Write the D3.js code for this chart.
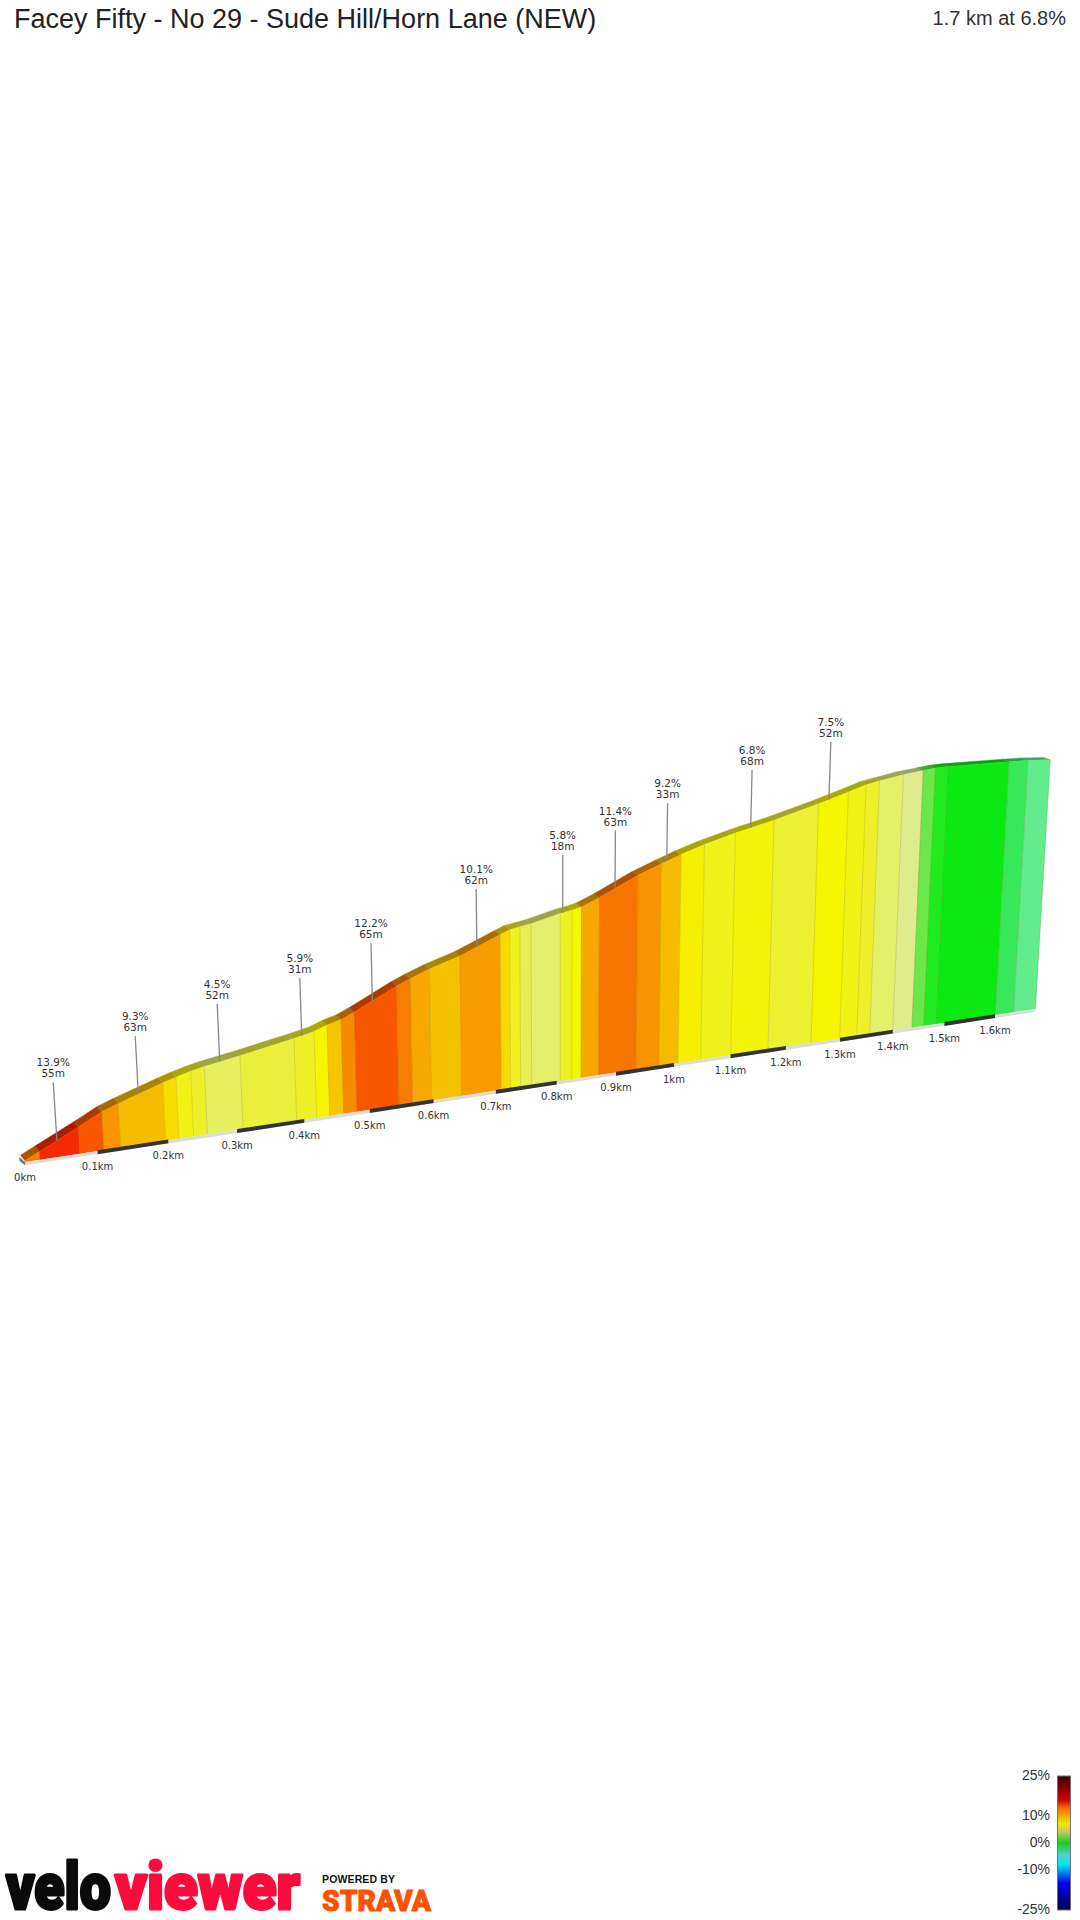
<!DOCTYPE html>
<html><head><meta charset="utf-8">
<script src="https://cdnjs.cloudflare.com/ajax/libs/d3/7.8.5/d3.min.js"></script>
<style>html,body{margin:0;padding:0;background:#fff}svg{display:block}</style>
</head><body><svg id="c" width="1080" height="1920"></svg>
<script>
// ---- data ----
const titleText = "Facey Fifty - No 29 - Sude Hill/Horn Lane (NEW)";
const summaryText = "1.7 km at 6.8%";
// segment boundaries: distance along climb (km), elevation above start (m)
const distances = [0,.0205,.0755,.109,.1324,.1963,.2154,.2366,.2564,.3086,.3886,.4188,.4385,.4599,.4803,.5455,.567,.597,.6449,.7088,.7242,.7405,.7586,.8061,.8251,.8408,.8705,.9343,.9739,1.0071,1.0469,1.1002,1.1675,1.2463,1.2996,1.3316,1.3561,1.4,1.4369,1.4596,1.4842,1.6006,1.6377,1.6816];
const elevations = [.5,3.15,10.2,14.7,16.96,22.5,24,25.5,26.6,28.9,32.8,34.5,36.4,37.9,40.2,48.5,50.9,53.8,57.6,64.4,66,66.7,67.4,70.3,71.1,72,75.1,82.8,86.6,89.7,92.9,96.5,100.4,105.7,109.6,112.1,113.3,115.1,116.1,116.7,116.9,116.5,116.3,115.6];
// gradient (%) of each segment, sets its colour
const gradients = [11,14,12.2,10.2,9,8,6.2,5.5,4.2,5,5.6,7,8.7,10.5,12.2,11,9.6,8.8,9.9,8.1,6,4.4,3.8,5.7,7,9.6,11.2,10.2,9,7.3,6,6.6,5.3,7,6.2,5.6,3.9,3,2,1.2,.5,-.3,-1];
const colorDomain = [-1,-.3,.5,1.2,2,3,4,5,6,7,8,9,10,11,12,14,16,25];
const colorRange = ["#62ec8e","#38e85a","#0ce812","#20ea20","#6ae84a","#deec8e","#e4f065","#eaf03c","#f0f21c","#f6f600","#f8dc00","#f5bc00","#f79a00","#f77c00","#f85c00","#f52a00","#d00000","#400000"];
const tickKm = [0,.1,.2,.3,.4,.5,.6,.7,.8,.9,1,1.1,1.2,1.3,1.4,1.5,1.6];
const tickLabels = ["0km","0.1km","0.2km","0.3km","0.4km","0.5km","0.6km","0.7km","0.8km","0.9km","1km","1.1km","1.2km","1.3km","1.4km","1.5km","1.6km"];
const calloutKm = [.0451,.1611,.2788,.4002,.508,.6716,.81,.8962,.9829,1.1267,1.2647];
const calloutGrade = ["13.9%","9.3%","4.5%","5.9%","12.2%","10.1%","5.8%","11.4%","9.2%","6.8%","7.5%"];
const calloutLen = ["55m","63m","52m","31m","65m","62m","18m","63m","33m","68m","52m"];
const legendTicks = [25,10,0,-10,-25];
const legendStopPct = [25,16,13,7.3,4.2,0,-4.5,-8,-15,-25];
const legendStopCol = ["#3a0000","#d00000","#f07000","#f0e800","#c8c860","#10d020","#50d0d0","#00e8f0","#0000e8","#000050"];

// ---- projection ----
const svg = d3.select("#c");
const groundX = d3.scaleLinear().domain([0,1]).range([0,735.4]);
const heightY = d3.scaleLinear().domain([0,116]).range([0,306]);
const elevAt = d3.scaleLinear().domain(distances).range(elevations);
const persp = d => 1/(1+.1332*d);
const baseX = d => 25 + groundX(d)*persp(d);
const baseY = d => 1162 - .1515*(baseX(d)-25);
function topPt(d,e){
  const h = heightY(e)*persp(d), x0 = baseX(d);
  return [x0 + (x0-561)*.000126*h, baseY(d)-h];
}
const backOff = d => [-4.5-2.2*d/1.7, -5.5+3.2*d/1.7];
const color = d3.scaleLinear().domain(colorDomain).range(colorRange);
const shade = c => { const r=d3.rgb(c); return d3.rgb(r.r*.69,r.g*.69,r.b*.69).formatHex(); };
const line = d3.line();
const segs = gradients.map((g,i)=>({g,i}));
const g = svg.append("g");

// road surface strip
g.selectAll("path.road").data(segs).join("path").attr("class","road")
 .attr("d",s=>{const d0=distances[s.i],d1=distances[s.i+1];
   const a=topPt(d0,elevations[s.i]),b=topPt(d1,elevations[s.i+1]);
   const oa=backOff(d0),ob=backOff(d1);
   return line([a,b,[b[0]+ob[0],b[1]+ob[1]],[a[0]+oa[0],a[1]+oa[1]]])+"Z";})
 .attr("fill",s=>shade(color(s.g))).attr("stroke",s=>shade(color(s.g))).attr("stroke-width",.4);

// face
g.selectAll("path.face").data(segs).join("path").attr("class","face")
 .attr("d",s=>{const d0=distances[s.i],d1=distances[s.i+1];
   return line([[baseX(d0),baseY(d0)],topPt(d0,elevations[s.i]),topPt(d1,elevations[s.i+1]),[baseX(d1),baseY(d1)]])+"Z";})
 .attr("fill",s=>color(s.g)).attr("stroke",s=>color(s.g)).attr("stroke-width",.4);
// segment separators
g.selectAll("line.sep").data(distances.slice(1)).join("line").attr("class","sep")
 .each(function(d,i){const t=topPt(d,elevations[i+1]);
   d3.select(this).attr("x1",baseX(d)).attr("y1",baseY(d)).attr("x2",t[0]).attr("y2",t[1]);})
 .attr("stroke","#806000").attr("stroke-opacity",.2).attr("stroke-width",1);

// base strip
g.append("path").attr("d",line([[19.3,1156.7],[25,1162.2],[25,1165.4],[19.3,1160.7]])).attr("fill","#777");
const dEnd = distances[distances.length-1];
g.append("path").attr("d",line([[baseX(0),baseY(0)],[baseX(dEnd),baseY(dEnd)],[baseX(dEnd),baseY(dEnd)+3],[baseX(0),baseY(0)+3.2]])).attr("fill","#dcdcdc");
g.selectAll("path.blk").data(d3.range(1,tickKm.length-1,2)).join("path").attr("class","blk")
 .attr("d",i=>{const a=tickKm[i],b=tickKm[i+1];return line([[baseX(a),baseY(a)-.8],[baseX(b),baseY(b)-.8],[baseX(b),baseY(b)+3],[baseX(a),baseY(a)+3.2]])+"Z";})
 .attr("fill","#333");

// distance labels
const FONT="'DejaVu Sans',sans-serif";
svg.append("g").selectAll("text").data(tickKm).join("text")
 .attr("x",d=>baseX(d)).attr("y",d=>baseY(d)+19).attr("text-anchor","middle")
 .attr("font-family",FONT).attr("font-size",10).attr("fill","#333")
 .text((d,i)=>tickLabels[i]);

// callouts
const co = svg.append("g").selectAll("g").data(calloutKm).join("g");
const LEAD=58;
co.each(function(d,i){
  const sel=d3.select(this), p=topPt(d,elevAt(d)), tx=p[0]+(p[0]-561)*.000126*LEAD, ty=p[1]-LEAD;
  sel.append("line").attr("x1",p[0]).attr("y1",p[1]).attr("x2",tx).attr("y2",ty).attr("stroke","#888").attr("stroke-width",1.3);
  [[calloutGrade[i],-16],[calloutLen[i],-5]].forEach(([t,dy])=>{
    sel.append("text").attr("x",tx).attr("y",ty+dy).attr("text-anchor","middle")
      .attr("font-family",FONT).attr("font-size",10.5).attr("fill","#333").text(t);
  });
});

// title
svg.append("text").attr("x",14).attr("y",28).attr("font-family","'Liberation Sans',Arial,sans-serif").attr("font-size",27).attr("fill","#222").text(titleText);
svg.append("text").attr("x",1066).attr("y",25).attr("text-anchor","end").attr("font-family","'Liberation Sans',Arial,sans-serif").attr("font-size",20).attr("fill","#333").text(summaryText);

// legend
const legY = d3.scaleLinear().domain([25,-25]).range([1776,1910]);
const defs = svg.append("defs");
const lg = defs.append("linearGradient").attr("id","lg").attr("x1",0).attr("x2",0).attr("y1",0).attr("y2",1);
lg.selectAll("stop").data(legendStopPct).join("stop").attr("offset",d=>(25-d)/50).attr("stop-color",(d,i)=>legendStopCol[i]);
svg.append("rect").attr("x",1057.5).attr("y",1776).attr("width",13).attr("height",134).attr("fill","url(#lg)").attr("stroke","#806a80").attr("stroke-width",1);
svg.append("g").selectAll("text").data(legendTicks).join("text")
 .attr("x",1050).attr("y",d=>legY(d)+4).attr("text-anchor","end").attr("font-family","'Liberation Sans',Arial,sans-serif").attr("font-size",14).attr("fill","#333").text(d=>d+"%");

// logos: natural text squeezed horizontally to the logo's width
const LOGO="'Roboto','Liberation Sans',sans-serif";
function logoText(t,x,w,y,size,fill,extra){
  const n = svg.append("text").attr("font-family",LOGO).attr("font-weight",900).attr("font-size",size)
    .attr("fill",fill).attr("stroke",fill).attr("stroke-width",extra).attr("stroke-linejoin","round").text(t);
  const k = w/n.node().getComputedTextLength();
  n.attr("transform",`translate(${x},${y}) scale(${k},1)`);
  return n;
}
logoText("velo",6,105,1909,64,"#0a0a0a",3);
logoText("viewer",115,185,1909,64,"#ff0a3c",3);
svg.append("text").attr("x",322).attr("y",1883).attr("textLength",73).attr("font-family","'Liberation Sans',sans-serif").attr("font-weight",700).attr("font-size",10.5).attr("fill","#111").text("POWERED BY");
logoText("STRAVA",322,109,1911,29,"#fc5200",1);
</script></body></html>
